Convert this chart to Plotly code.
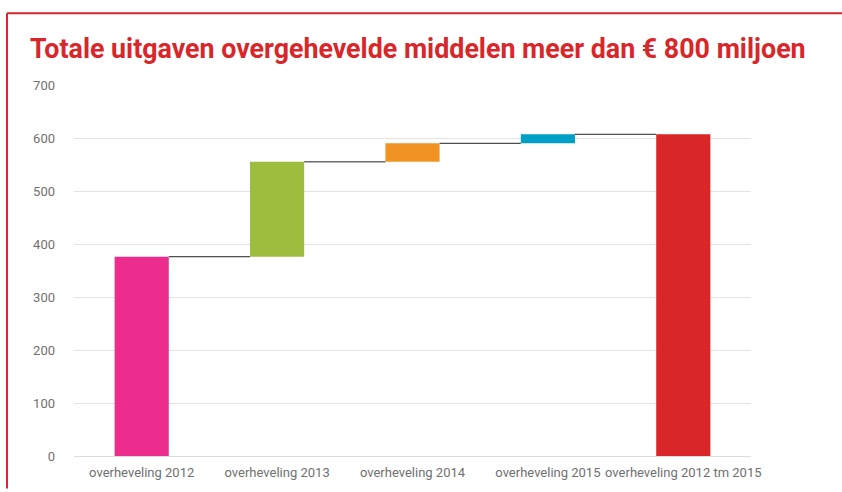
import plotly.graph_objects as go

categories = ["overheveling 2012", "overheveling 2013", "overheveling 2014",
              "overheveling 2015", "overheveling 2012 tm 2015"]
increments = [376, 179, 35, 17]
colors = ["#ec2d8d", "#9cbd3e", "#f19322", "#00a0c6", "#d92629"]
y_ticks = [0, 100, 200, 300, 400, 500, 600, 700]

# cumulative bases
bases = []
running = 0
for v in increments:
    bases.append(running)
    running += v
total = running
heights = increments + [total]
base_all = bases + [0]
xs = list(range(len(categories)))
bar_w = 0.4

fig = go.Figure()
fig.add_trace(go.Bar(
    x=xs, y=heights, base=base_all, width=bar_w,
    marker=dict(color=colors, line=dict(width=0)),
    hoverinfo="skip", showlegend=False,
))

# connector lines from each bar's top to the next bar
tops = [b + h for b, h in zip(base_all, heights)]
for i in range(len(xs) - 1):
    fig.add_shape(type="line", xref="x", yref="y",
                  x0=xs[i] + bar_w / 2, x1=xs[i + 1] - bar_w / 2,
                  y0=tops[i], y1=tops[i],
                  line=dict(color="#222222", width=1))

L, R, T, B = 74, 91, 85, 30
W, H = 842, 492
pw, ph = W - L - R, H - T - B
red = "#d9262a"
def px_x(p):
    return (p - L) / pw
def px_y(p):
    return (H - B - p) / ph
fig.add_shape(type="line", xref="paper", yref="paper",
              x0=px_x(7), x1=px_x(845), y0=px_y(12), y1=px_y(12),
              line=dict(color=red, width=2))
fig.add_shape(type="line", xref="paper", yref="paper",
              x0=px_x(7), x1=px_x(7), y0=px_y(12), y1=px_y(495),
              line=dict(color=red, width=2))

fig.update_layout(
    width=W, height=H,
    margin=dict(l=L, r=R, t=T, b=B),
    paper_bgcolor="white", plot_bgcolor="white",
    title=dict(text="<b>Totale uitgaven overgehevelde middelen meer dan € 800 miljoen</b>",
               x=30 / W, xanchor="left", xref="container",
               y=1 - 49 / H, yanchor="middle", yref="container",
               font=dict(family="Roboto", size=26.8, color=red)),
    font=dict(family="Roboto", size=13, color="#707070"),
)
fig.update_xaxes(
    range=[-0.5, len(xs) - 0.5],
    tickvals=xs, ticktext=categories,
    showgrid=False, showline=True, linecolor="#dddddd", linewidth=1,
    ticks="", tickfont=dict(size=13, color="#707070"),
    ticklabelstandoff=4,
    zeroline=False,
)
fig.update_yaxes(
    range=[0, 700], tickvals=y_ticks,
    showgrid=True, gridcolor="#e3e3e3", gridwidth=1,
    zeroline=False, showline=False, ticks="",
    ticklabelstandoff=18,
    tickfont=dict(size=13, color="#707070"),
)

fig.write_html("out.html", config={"displayModeBar": False},
               post_script="document.body.style.margin='0';document.body.style.padding='0';")
